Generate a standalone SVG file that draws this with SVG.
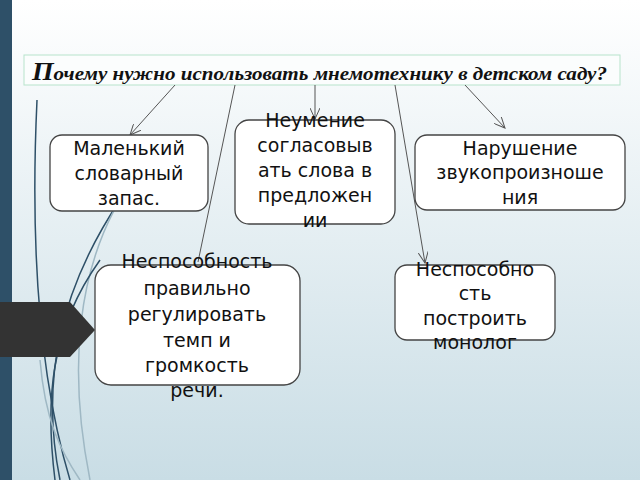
<svg xmlns="http://www.w3.org/2000/svg" width="640" height="480" viewBox="0 0 640 480">
<defs>
<linearGradient id="bg" x1="0" y1="0" x2="0" y2="1"><stop offset="0" stop-color="#ffffff"/><stop offset="1" stop-color="#c9dde5"/></linearGradient>
<marker id="ar" markerWidth="12" markerHeight="10" refX="11" refY="5" orient="auto" markerUnits="userSpaceOnUse"><path d="M0,0 L11,5 L0,10" fill="none" stroke="#555" stroke-width="1"/></marker>
<style>
.n{fill:#fff;stroke:#444;stroke-width:1.3}
.t{font-family:"DejaVu Sans",sans-serif;font-size:19px;fill:#111;text-anchor:middle}
.c{stroke:#555;stroke-width:1;fill:none}
</style>
</defs>
<rect width="640" height="480" fill="url(#bg)"/>
<g fill="none" stroke-width="1.5">
<path d="M37,100 C30,250 40,380 70,480" stroke="#2e5068"/>
<path d="M120,200 C60,290 40,380 60,480" stroke="#2e5068"/>
<path d="M140,170 C70,260 70,380 90,480" stroke="#9fb8c4"/>
<path d="M100,260 C50,330 45,400 55,480" stroke="#2e5068"/>
<path d="M40,360 C45,420 60,450 80,480" stroke="#9fb8c4"/>
</g>
<rect x="0" y="0" width="12" height="480" fill="#2e5068"/>
<polygon points="0,302 70,302 95,330 70,357 0,357" fill="#333"/>
<rect x="24" y="55" width="596" height="30" fill="#fbfdfd" stroke="#b7e3cb"/>
<text x="32" y="80" font-family="Liberation Serif,serif" font-style="italic" font-weight="bold" font-size="19" fill="#111" textLength="575" lengthAdjust="spacingAndGlyphs"><tspan font-size="25">П</tspan>очему нужно использовать мнемотехнику в детском саду?</text>
<g id="connectors">
<line class="c" x1="175" y1="85" x2="130" y2="135" marker-end="url(#ar)"/>
<line class="c" x1="235" y1="85" x2="198" y2="262"/>
<line class="c" x1="315" y1="85" x2="315" y2="119" marker-end="url(#ar)"/>
<line class="c" x1="395" y1="85" x2="425" y2="263" marker-end="url(#ar)"/>
<line class="c" x1="465" y1="85" x2="505" y2="128" marker-end="url(#ar)"/>
</g>
<g id="n1"><rect class="n" x="50" y="135" width="158" height="76" rx="12"/>
<text class="t"><tspan x="129" y="155">Маленький</tspan><tspan x="129" y="180">словарный</tspan><tspan x="129" y="205">запас.</tspan></text></g>
<g id="n2"><rect class="n" x="235" y="120" width="160" height="104" rx="14"/>
<text class="t"><tspan x="315" y="127">Неумение</tspan><tspan x="315" y="152">согласовыв</tspan><tspan x="315" y="177">ать слова в</tspan><tspan x="315" y="202">предложен</tspan><tspan x="315" y="227">ии</tspan></text></g>
<g id="n3"><rect class="n" x="415" y="135" width="210" height="75" rx="12"/>
<text class="t"><tspan x="520" y="155">Нарушение</tspan><tspan x="520" y="179">звукопроизноше</tspan><tspan x="520" y="204">ния</tspan></text></g>
<g id="n4"><rect class="n" x="95" y="265" width="205" height="120" rx="16"/>
<text class="t"><tspan x="197" y="268">Неспособность</tspan><tspan x="197" y="295">правильно</tspan><tspan x="197" y="321">регулировать</tspan><tspan x="197" y="347">темп и</tspan><tspan x="197" y="372">громкость</tspan><tspan x="197" y="397">речи.</tspan></text></g>
<g id="n5"><rect class="n" x="395" y="265" width="160" height="75" rx="12"/>
<text class="t"><tspan x="475" y="276">Неспособно</tspan><tspan x="475" y="300">сть</tspan><tspan x="475" y="325">построить</tspan><tspan x="475" y="349">монолог</tspan></text></g>
</svg>
